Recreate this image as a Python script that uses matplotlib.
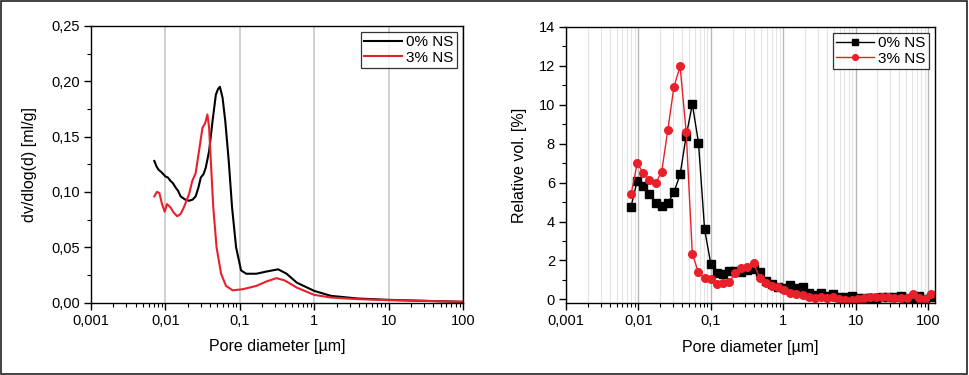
import numpy as np
import matplotlib
matplotlib.use('Agg')
import matplotlib.pyplot as plt
from matplotlib.ticker import FixedLocator, MultipleLocator, LogLocator, NullFormatter
from matplotlib.patches import Rectangle

plt.rcParams['font.family'] = ['Liberation Sans', 'DejaVu Sans']

# left panel: dv/dlog(d) curves
d_0 = [0.0071, 0.0076, 0.0081, 0.0088, 0.010, 0.0108, 0.0117, 0.0126, 0.0137, 0.0148, 0.016, 0.0185, 0.0208, 0.0232, 0.0255,
       0.0278, 0.0299, 0.0325, 0.0349, 0.0387, 0.043, 0.0477, 0.051, 0.054, 0.0587,
       0.0638, 0.071, 0.0787, 0.0891, 0.104, 0.122, 0.167, 0.228, 0.328, 0.426,
       0.582, 1.0, 1.68, 3.87, 10, 30, 100]
v_0 = [0.128, 0.123, 0.120, 0.118, 0.114, 0.113, 0.110, 0.108, 0.104, 0.101, 0.096, 0.093, 0.092, 0.093, 0.096,
       0.104, 0.113, 0.116, 0.122, 0.137, 0.164, 0.188, 0.193, 0.195, 0.185,
       0.164, 0.128, 0.086, 0.050, 0.029, 0.026, 0.026, 0.028, 0.030, 0.026,
       0.018, 0.0105, 0.006, 0.0036, 0.0024, 0.0015, 0.0006]

d_3 = [0.0071, 0.0077, 0.0083, 0.0090, 0.0098, 0.0105, 0.0117, 0.013, 0.0144, 0.016,
       0.0177, 0.0208, 0.023, 0.0255, 0.0283, 0.0315, 0.0342, 0.0367, 0.0387, 0.0408,
       0.044, 0.0487, 0.056, 0.0653, 0.0801, 0.109, 0.167, 0.228, 0.31, 0.40,
       0.582, 1.0, 1.68, 3.87, 10, 30, 100]
v_3 = [0.096, 0.100, 0.099, 0.089, 0.082, 0.089, 0.086, 0.081, 0.078, 0.080,
       0.086, 0.098, 0.110, 0.117, 0.137, 0.158, 0.162, 0.170, 0.158, 0.128,
       0.086, 0.050, 0.026, 0.015, 0.011, 0.012, 0.015, 0.019, 0.022, 0.020,
       0.0135, 0.0069, 0.0045, 0.003, 0.0021, 0.0015, 0.0006]

# right panel: relative volume per size class
d_rel = [0.00792, 0.00964, 0.0117, 0.0142, 0.0173, 0.0210, 0.0255, 0.0310, 0.0377, 0.0457,
         0.0556, 0.0676, 0.0821, 0.0998, 0.121, 0.147, 0.179, 0.217, 0.264, 0.321,
         0.390, 0.474, 0.575, 0.700, 0.849, 1.03, 1.26, 1.52, 1.85, 2.25,
         2.74, 3.32, 4.04, 4.91, 5.96, 7.24, 8.81, 10.7, 13.0, 15.8,
         19.2, 23.3, 28.3, 34.4, 41.8, 50.8, 61.8, 75.0, 91.2, 111]
rel_0 = [4.77, 6.11, 5.85, 5.42, 4.97, 4.82, 4.94, 5.51, 6.42, 8.4,
         10.03, 8.06, 3.6, 1.84, 1.36, 1.29, 1.46, 1.48, 1.40, 1.50,
         1.55, 1.42, 0.95, 0.78, 0.63, 0.58, 0.72, 0.57, 0.63, 0.31,
         0.22, 0.34, 0.19, 0.26, 0.14, 0.10, 0.19, 0.09, 0.05, 0.07,
         0.09, 0.10, 0.12, 0.10, 0.19, 0.08, 0.06, 0.19, 0.02, 0.10]
rel_3 = [5.4, 7.0, 6.48, 6.14, 5.97, 6.57, 8.71, 10.94, 11.97, 8.59,
         2.32, 1.39, 1.08, 1.03, 0.79, 0.82, 0.89, 1.34, 1.63, 1.68,
         1.85, 1.11, 0.86, 0.69, 0.62, 0.48, 0.31, 0.26, 0.22, 0.14,
         0.05, 0.10, 0.05, 0.10, 0.02, -0.03, -0.03, 0.02, 0.09, 0.14,
         0.14, 0.12, 0.10, 0.07, 0.05, 0.05, 0.26, 0.05, 0.02, 0.28]

xticks = [0.001, 0.01, 0.1, 1, 10, 100]
xticklabels = ['0,001', '0,01', '0,1', '1', '10', '100']
RED = '#e8202a'

fig = plt.figure(figsize=(9.69, 3.75), dpi=100)
fig.patches.append(Rectangle((0.001, 0.003), 0.997, 0.994, transform=fig.transFigure,
                             fill=False, ec='#222222', lw=1.2))


def style(ax):
    ax.set_xscale('log')
    ax.set_xticks(xticks)
    ax.set_xticklabels(xticklabels)
    ax.xaxis.set_minor_locator(LogLocator(base=10, subs=np.arange(2, 10), numticks=20))
    ax.xaxis.set_minor_formatter(NullFormatter())
    ax.tick_params(which='major', direction='out', length=5, width=1, labelsize=10.5, pad=3)
    ax.tick_params(which='minor', direction='out', length=3, width=0.8)
    for s in ax.spines.values():
        s.set_linewidth(1.0)
    ax.set_xlabel('Pore diameter [µm]', fontsize=11.5, labelpad=8)


# left
ax1 = fig.add_axes([91/969, 1-302.5/375, (463-91)/969, (302.5-26)/375])
style(ax1)
ax1.set_xlim(0.001, 100)
ax1.set_ylim(0, 0.25)
ax1.yaxis.set_major_locator(MultipleLocator(0.05))
ax1.yaxis.set_minor_locator(MultipleLocator(0.025))
ax1.set_yticklabels([('%.2f' % t).replace('.', ',') for t in ax1.get_yticks()])
ax1.grid(True, which='major', axis='x', color='#c8c8c8', lw=1.2)
ax1.set_axisbelow(True)
ax1.plot(d_0, v_0, color='black', lw=1.5, label='0% NS')
ax1.plot(d_3, v_3, color=RED, lw=1.5, label='3% NS')
ax1.set_ylabel('dv/dlog(d) [ml/g]', fontsize=11.5, labelpad=10)
leg1 = ax1.legend(loc='upper right', fontsize=11, frameon=True, fancybox=False,
                  edgecolor='black', handlelength=2.5, borderaxespad=0.4,
                  borderpad=0.2, labelspacing=0.1, handletextpad=0.3)
leg1.get_frame().set_linewidth(0.9)

# right
ax2 = fig.add_axes([566/969, 1-303.3/375, (935-566)/969, (303.3-27)/375])
style(ax2)
ax2.set_xlim(0.001, 125)
ax2.set_ylim(-0.2, 14)
ax2.yaxis.set_major_locator(FixedLocator(np.arange(0, 15, 2)))
ax2.yaxis.set_minor_locator(FixedLocator(np.arange(1, 14, 2)))
ax2.grid(True, which='major', axis='x', color='#b8b8b8', lw=1.0)
ax2.grid(True, which='minor', axis='x', color='#e4e4e4', lw=0.8)
ax2.set_axisbelow(True)
ax2.plot(d_rel, rel_0, color='black', lw=1.0, marker='s', ms=5.2, mec='black', label='0% NS')
ax2.plot(d_rel, rel_3, color=RED, lw=1.0, marker='o', ms=5.5, mec=RED, label='3% NS')
ax2.set_ylabel('Relative vol. [%]', fontsize=11.5, labelpad=8)
leg2 = ax2.legend(loc='upper right', fontsize=11, frameon=True, fancybox=False,
                  edgecolor='black', handlelength=2.5, borderaxespad=0.4,
                  borderpad=0.2, labelspacing=0.1, handletextpad=0.3, markerscale=0.75)
leg2.get_frame().set_linewidth(0.9)

plt.savefig('out.png', dpi=100)
